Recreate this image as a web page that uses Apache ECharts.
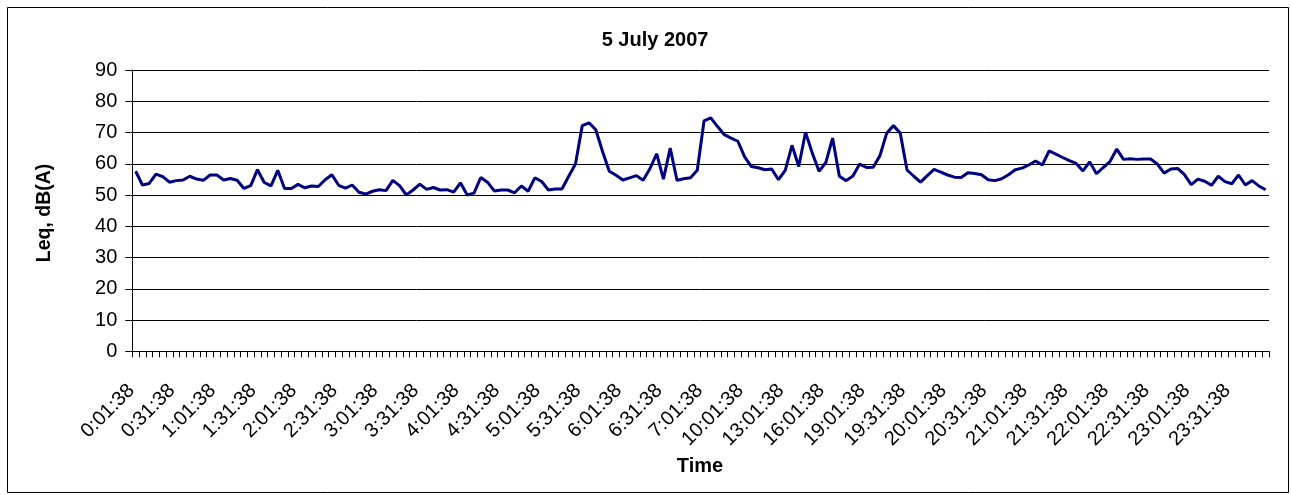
<!DOCTYPE html>
<html>
<head>
<meta charset="utf-8">
<script src="https://cdn.jsdelivr.net/npm/echarts@6/dist/echarts.min.js"></script>
<style>
html,body{margin:0;padding:0;background:#fff;}
#chart{width:1291px;height:495px;}
</style>
</head>
<body>
<div id="chart"></div>
<script>
var chartTitle = "5 July 2007";
var xAxisTitle = "Time";
var yAxisTitle = "Leq, dB(A)";

var categories = [
"0:01:38","0:06:38","0:11:38","0:16:38","0:21:38","0:26:38","0:31:38","0:36:38","0:41:38","0:46:38","0:51:38","0:56:38",
"1:01:38","1:06:38","1:11:38","1:16:38","1:21:38","1:26:38","1:31:38","1:36:38","1:41:38","1:46:38","1:51:38","1:56:38",
"2:01:38","2:06:38","2:11:38","2:16:38","2:21:38","2:26:38","2:31:38","2:36:38","2:41:38","2:46:38","2:51:38","2:56:38",
"3:01:38","3:06:38","3:11:38","3:16:38","3:21:38","3:26:38","3:31:38","3:36:38","3:41:38","3:46:38","3:51:38","3:56:38",
"4:01:38","4:06:38","4:11:38","4:16:38","4:21:38","4:26:38","4:31:38","4:36:38","4:41:38","4:46:38","4:51:38","4:56:38",
"5:01:38","5:06:38","5:11:38","5:16:38","5:21:38","5:26:38","5:31:38","5:36:38","5:41:38","5:46:38","5:51:38","5:56:38",
"6:01:38","6:06:38","6:11:38","6:16:38","6:21:38","6:26:38","6:31:38","6:36:38","6:41:38","6:46:38","6:51:38","6:56:38",
"7:01:38","7:31:38","8:01:38","8:31:38","9:01:38","9:31:38",
"10:01:38","10:31:38","11:01:38","11:31:38","12:01:38","12:31:38",
"13:01:38","13:31:38","14:01:38","14:31:38","15:01:38","15:31:38",
"16:01:38","16:31:38","17:01:38","17:31:38","18:01:38","18:31:38",
"19:01:38","19:06:38","19:11:38","19:16:38","19:21:38","19:26:38","19:31:38","19:36:38","19:41:38","19:46:38","19:51:38","19:56:38",
"20:01:38","20:06:38","20:11:38","20:16:38","20:21:38","20:26:38","20:31:38","20:36:38","20:41:38","20:46:38","20:51:38","20:56:38",
"21:01:38","21:06:38","21:11:38","21:16:38","21:21:38","21:26:38","21:31:38","21:36:38","21:41:38","21:46:38","21:51:38","21:56:38",
"22:01:38","22:06:38","22:11:38","22:16:38","22:21:38","22:26:38","22:31:38","22:36:38","22:41:38","22:46:38","22:51:38","22:56:38",
"23:01:38","23:06:38","23:11:38","23:16:38","23:21:38","23:26:38","23:31:38","23:36:38","23:41:38","23:46:38","23:51:38","23:56:38"
];

var leqValues = [
57.6, 53.2, 53.7, 56.7, 55.9, 54.1, 54.6, 54.8, 56.0, 55.1,
54.7, 56.4, 56.4, 54.8, 55.3, 54.7, 52.1, 53.0, 58.1, 54.0,
52.9, 57.9, 52.1, 52.1, 53.4, 52.3, 52.9, 52.7, 54.9, 56.5,
53.1, 52.2, 53.2, 50.9, 50.3, 51.2, 51.7, 51.4, 54.7, 53.0,
50.0, 51.6, 53.5, 51.8, 52.4, 51.6, 51.7, 50.9, 53.9, 50.0,
50.6, 55.6, 54.1, 51.3, 51.6, 51.6, 50.7, 52.9, 51.2, 55.5,
54.3, 51.6, 51.9, 51.9, 56.0, 59.9, 72.2, 73.1, 70.9, 63.9,
57.6, 56.3, 54.8, 55.5, 56.2, 54.7, 58.4, 63.2, 55.1, 65.0,
54.7, 55.2, 55.5, 57.9, 73.7, 74.7, 71.9, 69.3, 68.2, 67.2,
62.2, 59.1, 58.7, 58.1, 58.3, 54.9, 57.9, 65.9, 59.1, 70.1,
63.4, 57.6, 60.4, 68.2, 56.0, 54.6, 56.1, 59.9, 58.8, 58.9,
62.6, 69.8, 72.2, 69.8, 58.0, 56.0, 54.1, 56.2, 58.2, 57.3,
56.4, 55.7, 55.6, 57.1, 56.9, 56.5, 54.9, 54.6, 55.2, 56.5,
58.1, 58.6, 59.6, 60.9, 59.6, 64.1, 63.1, 62.0, 61.0, 60.1,
57.7, 60.6, 56.8, 58.8, 60.7, 64.7, 61.4, 61.6, 61.4, 61.5,
61.5, 59.9, 57.0, 58.3, 58.5, 56.5, 53.3, 55.1, 54.4, 53.1,
56.0, 54.3, 53.6, 56.4, 53.2, 54.6, 52.9, 51.7
];

var yMin = 0, yMax = 90, yStep = 10;

var FONT = '"Liberation Sans", Arial, sans-serif';
var chart = echarts.init(document.getElementById('chart'), null, {renderer: 'canvas'});
chart.setOption({
  animation: false,
  backgroundColor: '#ffffff',
  grid: {left: 132.3, right: 22, top: 70, bottom: 143.75, containLabel: false},
  graphic: [
    {type: 'rect', shape: {x: 7.5, y: 7.5, width: 1281, height: 485}, style: {fill: 'none', stroke: '#000', lineWidth: 1}, silent: true},
    {type: 'text', x: 655, y: 40, style: {text: chartTitle, font: 'bold 20px ' + FONT, fill: '#000', textAlign: 'center', textVerticalAlign: 'middle'}},
    {type: 'text', x: 700, y: 466, style: {text: xAxisTitle, font: 'bold 20px ' + FONT, fill: '#000', textAlign: 'center', textVerticalAlign: 'middle'}},
    {type: 'text', x: 45, y: 213, rotation: Math.PI / 2, style: {text: yAxisTitle, font: 'bold 19.5px ' + FONT, fill: '#000', textAlign: 'center', textVerticalAlign: 'middle'}}
  ],
  xAxis: {
    type: 'category',
    data: categories,
    boundaryGap: true,
    axisLine: {show: true, lineStyle: {color: '#000', width: 1}},
    axisTick: {show: true, interval: 0, length: 6, inside: false, lineStyle: {color: '#000', width: 1}},
    axisLabel: {interval: 5, rotate: 45, margin: 32, padding: [0, 6, 0, 0], fontFamily: FONT, fontSize: 20, color: '#000'},
    splitLine: {show: false}
  },
  yAxis: {
    type: 'value',
    min: yMin, max: yMax, interval: yStep,
    axisLine: {show: true, lineStyle: {color: '#000', width: 1}},
    axisTick: {show: true, length: 7, lineStyle: {color: '#000', width: 1}},
    axisLabel: {margin: 15, fontFamily: FONT, fontSize: 20, color: '#000'},
    splitLine: {show: true, lineStyle: {color: '#000', width: 1}}
  },
  series: [{
    type: 'line',
    data: leqValues,
    symbol: 'none',
    smooth: false,
    lineStyle: {color: '#000080', width: 3},
    itemStyle: {color: '#000080'}
  }]
});
</script>
</body>
</html>
